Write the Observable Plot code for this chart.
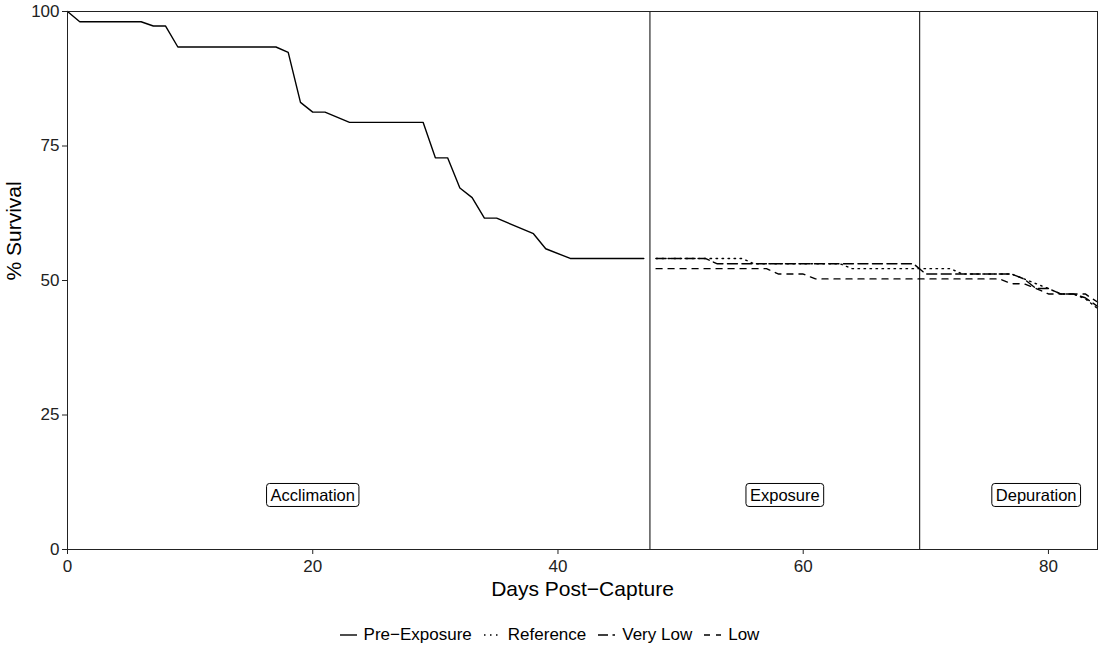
<!DOCTYPE html>
<html>
<head>
<meta charset="utf-8">
<script src="https://cdn.jsdelivr.net/npm/d3@7"></script>
<script src="https://cdn.jsdelivr.net/npm/@observablehq/plot@0.6"></script>
<style>
  body { margin: 0; background: white; font-family: "Liberation Sans", Arial, sans-serif; }
  #wrap { position: relative; width: 1099px; height: 651px; }
  #legend { position: absolute; left: 0; top: 625px; width: 1099px; display: flex; justify-content: center; align-items: center; font-size: 17px; color: #000; }
  .item { display: flex; align-items: center; margin: 0 6px; }
  .item svg { margin-right: 7px; }
</style>
</head>
<body>
<div id="wrap"><div id="legend"></div></div>
<script>
// ---- data ----
const preDays = [0, 1, 6, 7, 8, 9, 17, 18, 19, 20, 21, 23, 29, 30, 31, 32, 33, 34, 35, 38, 39, 41, 47];
const preSurv = [100, 98.1, 98.1, 97.3, 97.3, 93.4, 93.4, 92.4, 83.1, 81.3, 81.3, 79.4, 79.4, 72.8, 72.8, 67.2, 65.4, 61.6, 61.6, 58.7, 55.9, 54.1, 54.1];

const refDays = [48, 55, 56, 63, 64, 72, 73, 77, 78, 79, 80, 81, 82, 83, 84];
const refSurv = [54.1, 54.1, 53.1, 53.1, 52.2, 52.2, 51.2, 51.2, 50.3, 49.4, 48.5, 47.5, 47.5, 46.6, 44.8];

const vlowDays = [48, 52, 53, 69, 70, 77, 78, 79, 80, 81, 82, 83, 84];
const vlowSurv = [54.1, 54.1, 53.1, 53.1, 51.2, 51.2, 50.3, 48.5, 48.5, 47.5, 47.5, 46.8, 45.2];

const lowDays = [48, 57, 58, 60, 61, 76, 77, 78, 79, 80, 83, 84];
const lowSurv = [52.2, 52.2, 51.2, 51.2, 50.3, 50.3, 49.4, 49.4, 48.5, 47.5, 47.5, 46.0];

const phaseBreaks = [47.5, 69.5];
const phaseLabels = ["Acclimation", "Exposure", "Depuration"];
const phaseLabelX = [20, 58.5, 79];
const phaseLabelY = [10, 10, 10];

const xTicks = [0, 20, 40, 60, 80];
const yTicks = [0, 25, 50, 75, 100];

const seriesNames = ["Pre\u2212Exposure", "Reference", "Very Low", "Low"];
const seriesDash = ["none", "1.5,4.5", "10,4.5", "6,6"];

// ---- build tables ----
const toRows = (days, surv) => days.map((d, i) => ({day: d, surv: surv[i]}));
const seriesData = [toRows(preDays, preSurv), toRows(refDays, refSurv), toRows(vlowDays, vlowSurv), toRows(lowDays, lowSurv)];
const labelRows = phaseLabels.map((t, i) => ({t, x: phaseLabelX[i], y: phaseLabelY[i]}));

const lineMarks = seriesData.map((rows, i) => Plot.line(rows, {
  x: "day", y: "surv", stroke: "black", strokeWidth: 1.4,
  strokeDasharray: seriesDash[i] === "none" ? undefined : seriesDash[i],
  strokeLinejoin: "round"
}));

const chart = Plot.plot({
  width: 1099,
  height: 612,
  marginLeft: 67,
  marginRight: 2,
  marginTop: 11,
  marginBottom: 63,
  style: {fontFamily: "'Liberation Sans', Arial, sans-serif", background: "white", overflow: "visible"},
  x: {domain: [0, 84], label: null},
  y: {domain: [0, 100], label: null},
  marks: [
    Plot.axisX(xTicks, {tickSize: 5, tickPadding: 5, fontSize: 17, color: "#222", label: null}),
    Plot.axisY(yTicks, {tickSize: 5, tickPadding: 3, fontSize: 17, color: "#222", label: null}),
    Plot.ruleX(phaseBreaks, {stroke: "black", strokeWidth: 1}),
    ...lineMarks,
    Plot.text(labelRows, {x: "x", y: "y", text: "t", fontSize: 16.5, fill: "black", className: "phase-label"}),
    Plot.frame({stroke: "#222", strokeWidth: 1}),
    Plot.text(["Days Post\u2212Capture"], {frameAnchor: "bottom", dy: 46, fontSize: 21, fill: "black"}),
    Plot.text(["% Survival"], {frameAnchor: "left", dx: -53, rotate: -90, fontSize: 21, fill: "black"})
  ]
});

const wrap = document.getElementById("wrap");
wrap.insertBefore(chart, wrap.firstChild);

// boxes behind phase labels (geom_label style)
chart.querySelectorAll("g.phase-label text").forEach(t => {
  const b = t.getBBox();
  const padX = 4, padY = 2.5;
  const r = document.createElementNS("http://www.w3.org/2000/svg", "rect");
  r.setAttribute("x", b.x - padX);
  r.setAttribute("y", b.y - padY);
  r.setAttribute("width", b.width + 2 * padX);
  r.setAttribute("height", b.height + 2 * padY);
  r.setAttribute("rx", 3);
  r.setAttribute("fill", "white");
  r.setAttribute("stroke", "black");
  r.setAttribute("stroke-width", 1);
  const tr = t.getAttribute("transform");
  if (tr) r.setAttribute("transform", tr);
  t.parentNode.insertBefore(r, t);
});

// legend
const legend = document.getElementById("legend");
seriesNames.forEach((name, i) => {
  const item = document.createElement("div");
  item.className = "item";
  const dash = seriesDash[i] === "none" ? "" : `stroke-dasharray="${seriesDash[i]}"`;
  item.innerHTML = `<svg width="17" height="12"><line x1="0" x2="17" y1="6" y2="6" stroke="black" stroke-width="1.4" ${dash}/></svg><span>${name}</span>`;
  legend.appendChild(item);
});
</script>
</body>
</html>
